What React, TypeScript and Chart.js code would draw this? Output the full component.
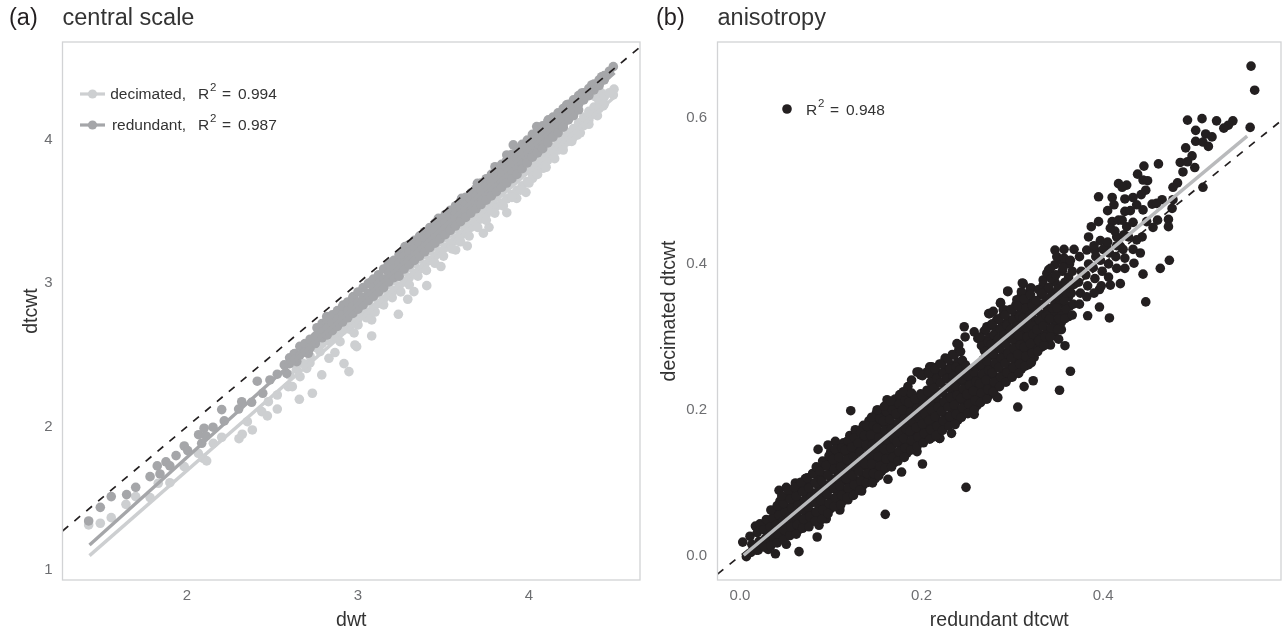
import React, { useEffect, useRef } from "react";
import { Chart, registerables } from "chart.js";

Chart.register(...registerables);

const FONT = '"Liberation Sans", Arial, sans-serif';

const scaleTicksX = [2, 3, 4];
const scaleTicksY = [1, 2, 3, 4];
const anisoTicksX = [0, 0.2, 0.4];
const anisoTicksY = [0, 0.2, 0.4, 0.6];

const identityScale = [[1.272, 1.272], [4.649, 4.649]];
const identityAniso = [[-0.0248, -0.0248], [0.596, 0.596]];
const fitDecimated = [[1.43, 1.1], [4.5, 4.3]];
const fitRedundant = [[1.43, 1.174], [4.5, 4.47]];
const fitAniso = [[0.004, 0.001], [0.5587, 0.575]];

const decimatedPoints = [
  [1.425,1.314],[1.493,1.326],[1.557,1.365],[1.643,1.458],[1.7,1.512],[1.784,1.505],[1.832,1.605],[1.9,1.609],[1.984,1.721],[2.066,1.814],[2.095,1.779],[2.115,1.761],[2.154,1.884],[2.203,1.926],[2.304,1.916],[2.323,1.947],[2.382,1.977],[2.353,2.035],[2.437,2.105],[2.47,2.075],[2.476,2.174],[2.528,2.123],[2.528,2.221],[2.592,2.279],[2.616,2.279],[2.657,2.191],[2.733,2.233],[2.661,2.349],[2.7,2.407],[2.788,2.361],[2.918,2.44],[2.947,2.384],[2.83,2.477],[2.865,2.517],[2.719,2.445],[2.778,2.524],[2.982,2.57],[2.895,2.593],
  [2.992,2.558],[3.08,2.633],[2.977,2.654],[3.08,2.745],[3.236,2.784],[3.291,2.889],[3.327,2.942],[3.402,2.984],[3.485,3.117],[3.571,3.233],[3.639,3.261],[3.733,3.35],[3.766,3.391],[3.87,3.493],[3.928,3.593],[3.982,3.635],[4.021,3.733],[4.082,3.803],[4.143,3.884],[4.191,3.942],[4.282,4.035],[4.337,4.152],[4.392,4.187],[4.434,4.238],[4.493,4.315],[4.497,4.355],[4.421,4.331],[4.386,4.303],
  [2.6,2.36],[2.64,2.4],[2.68,2.44],[2.72,2.49],[2.76,2.6],[2.76,2.55],[2.79,2.63],[2.79,2.58],[2.82,2.65],[2.82,2.6],[2.85,2.69],[2.85,2.62],[2.88,2.7],[2.88,2.65],[2.91,2.73],[2.91,2.67],[2.94,2.76],[2.94,2.7],[2.97,2.78],[2.97,2.72],[3.0,2.81],[3.0,2.75],[3.03,2.84],[3.03,2.78],[3.06,2.87],[3.06,2.8],[3.09,2.9],[3.09,2.83],[3.12,2.93],[3.12,2.86],[3.15,2.96],[3.15,2.89],[3.18,2.99],[3.18,2.92],[3.21,3.02],[3.21,2.95],
  [3.24,3.05],[3.24,2.98],[3.27,3.08],[3.27,3.01],[3.3,3.11],[3.3,3.04],[3.33,3.14],[3.33,3.07],[3.36,3.17],[3.36,3.1],[3.39,3.2],[3.39,3.13],[3.42,3.23],[3.42,3.16],[3.45,3.26],[3.45,3.19],[3.48,3.29],[3.48,3.22],[3.51,3.32],[3.51,3.25],[3.54,3.35],[3.54,3.27],[3.57,3.38],[3.57,3.3],[3.6,3.41],[3.6,3.33],[3.63,3.44],[3.63,3.36],[3.66,3.47],[3.66,3.39],[3.69,3.5],[3.69,3.42],[3.72,3.53],[3.72,3.45],[3.75,3.56],[3.75,3.48],[3.78,3.59],[3.78,3.51],[3.81,3.62],[3.81,3.54],[3.84,3.65],[3.84,3.56],[3.87,3.68],[3.87,3.59],[3.9,3.71],[3.9,3.62],[3.93,3.74],[3.93,3.65],[3.96,3.77],[3.96,3.68],[3.99,3.8],[3.99,3.71],[4.02,3.83],[4.02,3.76],[4.05,3.86],[4.05,3.79],[4.08,3.89],[4.08,3.83],[4.11,3.92],[4.11,3.86],[4.14,3.95],[4.14,3.9],[4.17,3.98],[4.17,3.93],[4.2,4.02],[4.2,3.96],[4.23,4.05],[4.23,3.99],[4.26,4.08],[4.26,4.02],[4.29,4.12],[4.29,4.07],[4.32,4.16],[4.32,4.1],[4.35,4.2],[4.35,4.14],[4.38,4.23],[4.38,4.18],[4.41,4.27],[4.41,4.22],[4.44,4.3],[4.44,4.25],[4.47,4.33],
  [2.95,2.68],[3.0,2.71],[3.05,2.76],[3.1,2.8],[3.15,2.85],[3.2,2.9],[3.25,2.94],[3.3,2.99],[3.35,3.05],[3.4,3.09],[3.45,3.14],[3.5,3.19],[3.55,3.24],[3.6,3.29],[3.65,3.33],[3.7,3.39],[3.75,3.44],[3.8,3.49],[3.85,3.54],[3.9,3.6],[3.95,3.65],[4.0,3.7],[4.05,3.76],[4.1,3.81],[4.15,3.87],[4.2,3.93],[4.25,3.99],[4.3,4.05],[4.35,4.11],[4.4,4.17]
];

const redundantPoints = [
  [1.425,1.342],[1.493,1.437],[1.557,1.512],[1.647,1.526],[1.7,1.577],[1.784,1.651],[1.826,1.726],[1.842,1.67],[1.877,1.754],[1.9,1.726],[1.936,1.798],[1.984,1.865],[2.004,1.833],[2.068,1.944],[2.1,1.989],[2.111,1.935],[2.086,1.884],[2.152,1.996],[2.203,2.119],[2.218,2.04],[2.302,2.123],[2.32,2.174],[2.378,2.17],[2.411,2.317],[2.443,2.233],[2.485,2.326],[2.528,2.366],[2.569,2.431],[2.583,2.372],[2.626,2.507],[2.642,2.454],[2.68,2.554],[2.709,2.512],[2.749,2.582],
  [2.6,2.48],[2.6,2.44],[2.63,2.51],[2.63,2.47],[2.66,2.56],[2.66,2.5],[2.69,2.58],[2.69,2.52],[2.72,2.61],[2.72,2.55],[2.75,2.63],[2.75,2.58],[2.817,2.768],[2.924,2.849],[2.973,2.896],[3.187,3.14],[3.275,3.256],
  [4.493,4.512],[4.425,4.442],[4.367,4.384],[4.308,4.327],[4.22,4.245],[4.113,4.141],[4.045,4.094],[3.908,3.966],[3.87,3.896],[3.801,3.814],[3.698,3.698],[3.606,3.593],[3.47,3.454],[3.314,3.256],[3.177,3.129],[3.08,3.012],[2.972,2.907],[2.914,2.849],
  [2.76,2.69],[2.76,2.63],[2.79,2.72],[2.79,2.66],[2.79,2.62],[2.82,2.75],[2.82,2.69],[2.82,2.64],[2.85,2.78],[2.85,2.72],[2.85,2.67],[2.88,2.81],[2.88,2.75],[2.88,2.7],[2.91,2.84],[2.91,2.78],[2.91,2.73],[2.94,2.87],[2.94,2.81],[2.94,2.76],[2.97,2.9],[2.97,2.84],[2.97,2.79],[3.0,2.94],[3.0,2.87],[3.0,2.82],[3.03,2.97],[3.03,2.9],[3.03,2.85],[3.06,3.0],[3.06,2.93],[3.06,2.88],[3.09,3.03],[3.09,2.97],[3.09,2.91],[3.12,3.06],[3.12,3.0],[3.12,2.94],[3.15,3.1],[3.15,3.03],[3.15,2.97],[3.18,3.13],[3.18,3.07],[3.18,3.01],[3.21,3.16],[3.21,3.1],[3.21,3.04],[3.24,3.2],[3.24,3.14],[3.24,3.08],[3.24,3.05],
  [3.27,3.24],[3.27,3.19],[3.27,3.14],[3.27,3.1],[3.3,3.27],[3.3,3.22],[3.3,3.17],[3.3,3.13],[3.33,3.3],[3.33,3.25],[3.33,3.2],[3.33,3.16],[3.36,3.33],[3.36,3.28],[3.36,3.23],[3.36,3.19],[3.39,3.36],[3.39,3.31],[3.39,3.26],[3.39,3.22],[3.42,3.39],[3.42,3.34],[3.42,3.29],[3.42,3.25],[3.45,3.42],[3.45,3.37],[3.45,3.32],[3.45,3.28],[3.48,3.45],[3.48,3.4],[3.48,3.35],[3.48,3.31],[3.51,3.48],[3.51,3.43],[3.51,3.38],[3.51,3.34],[3.54,3.51],[3.54,3.46],[3.54,3.41],[3.54,3.37],[3.57,3.54],[3.57,3.49],[3.57,3.44],[3.57,3.4],[3.6,3.57],[3.6,3.52],[3.6,3.47],[3.6,3.43],[3.63,3.6],[3.63,3.55],[3.63,3.5],[3.63,3.46],[3.66,3.63],[3.66,3.58],[3.66,3.53],[3.66,3.49],[3.69,3.66],[3.69,3.61],[3.69,3.56],[3.69,3.52],[3.72,3.7],[3.72,3.65],[3.72,3.59],[3.72,3.55],[3.75,3.73],[3.75,3.68],[3.75,3.62],[3.75,3.58],[3.78,3.76],[3.78,3.71],[3.78,3.65],[3.78,3.61],[3.81,3.8],[3.81,3.74],[3.81,3.68],[3.81,3.64],[3.84,3.83],[3.84,3.77],[3.84,3.71],[3.84,3.67],[3.87,3.86],[3.87,3.8],[3.87,3.74],[3.87,3.7],[3.9,3.9],[3.9,3.84],[3.9,3.78],[3.9,3.73],[3.93,3.93],[3.93,3.87],[3.93,3.81],[3.93,3.76],[3.96,3.97],[3.96,3.91],[3.96,3.85],[3.96,3.8],[3.99,4.0],[3.99,3.94],[3.99,3.88],[3.99,3.84],
  [4.02,4.04],[4.02,3.98],[4.02,3.92],[4.02,3.88],[4.05,4.07],[4.05,4.01],[4.05,3.95],[4.05,3.91],[4.08,4.1],[4.08,4.04],[4.08,3.98],[4.08,3.94],[4.11,4.13],[4.11,4.07],[4.11,4.02],[4.11,3.98],[4.14,4.16],[4.14,4.1],[4.14,4.05],[4.14,4.02],[4.17,4.19],[4.17,4.13],[4.17,4.08],[4.17,4.05],[4.2,4.22],[4.2,4.16],[4.2,4.11],[4.2,4.09],[4.23,4.25],[4.23,4.19],[4.23,4.14],[4.26,4.28],[4.26,4.22],[4.26,4.17],[4.29,4.31],[4.29,4.25],[4.29,4.21],[4.32,4.33],[4.32,4.28],[4.35,4.36],[4.35,4.31],[4.38,4.39],[4.38,4.35],[4.41,4.42],[4.41,4.38],[4.44,4.45],[4.44,4.42],[4.47,4.48]
];

const anisotropyPoints = [
  [0.003,0.019],[0.007,-0.001],[0.018,0.008],[0.031,0.009],[0.039,0.003],[0.051,0.016],[0.065,0.006],[0.085,0.026],[0.087,0.042],[0.095,0.051],[0.11,0.063],[0.119,0.077],[0.134,0.089],[0.163,0.105],[0.16,0.057],[0.249,0.094],[0.201,0.126],[0.178,0.115],[0.233,0.168],[0.258,0.194],[0.284,0.217],[0.306,0.204],[0.122,0.199],[0.086,0.146],[0.043,0.09],[0.051,0.094],[0.061,0.1],[0.017,0.041],[0.162,0.214],[0.176,0.221],
  [0.563,0.671],[0.567,0.638],[0.562,0.587],[0.493,0.597],[0.509,0.599],[0.525,0.596],[0.543,0.596],[0.538,0.59],[0.533,0.586],[0.502,0.583],[0.513,0.578],[0.52,0.574],[0.502,0.568],[0.51,0.567],[0.516,0.561],[0.491,0.559],[0.498,0.548],[0.485,0.539],[0.493,0.54],[0.501,0.532],[0.488,0.526],[0.461,0.537],[0.445,0.534],[0.438,0.523],[0.444,0.515],[0.449,0.514],[0.417,0.51],[0.426,0.508],[0.421,0.505],[0.482,0.511],[0.477,0.505],[0.51,0.505],[0.447,0.501],[0.442,0.495],[0.395,0.492],[0.41,0.491],[0.412,0.481],[0.424,0.489],[0.433,0.491],[0.405,0.473],[0.424,0.472],[0.43,0.473],[0.437,0.481],[0.444,0.474],[0.454,0.482],[0.465,0.488],[0.459,0.483],[0.477,0.488],[0.476,0.476],[0.472,0.461],[0.472,0.451],[0.455,0.45],[0.46,0.46],[0.448,0.458],[0.443,0.437],[0.437,0.433],[0.395,0.458],[0.387,0.451],[0.41,0.458],[0.417,0.46],[0.408,0.449],[0.426,0.451],[0.433,0.457],[0.384,0.437],[0.397,0.432],[0.415,0.437],[0.428,0.437],[0.419,0.424],[0.347,0.419],[0.357,0.42],[0.368,0.42],[0.382,0.419],[0.391,0.419],[0.404,0.424],[0.433,0.42],[0.441,0.415],[0.424,0.408],[0.473,0.405],[0.463,0.394],[0.434,0.401],[0.444,0.386],[0.424,0.394],[0.415,0.394],[0.447,0.348],[0.396,0.341],[0.407,0.326],[0.383,0.329],[0.419,0.373],[0.408,0.371],[0.396,0.365],[0.406,0.382],[0.295,0.362],[0.312,0.373],[0.32,0.367],[0.31,0.357],[0.287,0.346],[0.307,0.348],[0.275,0.332],[0.292,0.337],[0.34,0.392],[0.347,0.399],[0.354,0.405],[0.334,0.378],
  [0.195,0.252],[0.152,0.2],[0.136,0.179],[0.127,0.173],[0.105,0.157],[0.097,0.152],[0.072,0.106],[0.055,0.084],[0.209,0.259],[0.226,0.271],[0.239,0.291],[0.22,0.161],[0.213,0.163],[0.195,0.143],[0.147,0.113],[0.132,0.09],[0.237,0.186],[0.257,0.207],[0.272,0.216],
  [0.151,0.2],[0.189,0.241],[0.197,0.252],[0.211,0.259],[0.241,0.289],[0.247,0.314],[0.248,0.3],[0.258,0.307],[0.272,0.314],[0.274,0.332],[0.279,0.335],[0.287,0.347],[0.29,0.337],[0.295,0.363],[0.305,0.351],[0.31,0.362],[0.311,0.374],[0.321,0.367],[0.334,0.371],[0.338,0.387],[0.349,0.41],[0.357,0.408],[0.342,0.394],
  [0.22,0.161],[0.215,0.168],[0.237,0.185],[0.283,0.218],[0.271,0.215],[0.313,0.232],[0.323,0.24],[0.352,0.227],[0.318,0.262],[0.307,0.255],[0.294,0.247],[0.332,0.286],[0.342,0.289],[0.358,0.288],[0.351,0.297],[0.354,0.31],[0.364,0.253],[0.198,0.159],
  [0.012,0.005],[0.013,0.016],[0.011,0.027],[0.02,0.008],[0.021,0.02],[0.019,0.032],[0.022,0.044],[0.027,0.012],[0.028,0.024],[0.026,0.036],[0.029,0.05],[0.034,0.014],[0.035,0.027],[0.033,0.04],[0.036,0.052],[0.034,0.063],[0.041,0.018],[0.042,0.03],[0.04,0.043],[0.043,0.056],[0.041,0.069],[0.048,0.022],[0.049,0.035],[0.047,0.047],[0.05,0.06],[0.048,0.072],[0.046,0.082],
  [0.055,0.028],[0.056,0.04],[0.054,0.053],[0.057,0.066],[0.055,0.078],[0.053,0.09],[0.062,0.03],[0.063,0.043],[0.061,0.056],[0.064,0.069],[0.062,0.082],[0.06,0.094],[0.069,0.038],[0.07,0.05],[0.068,0.063],[0.071,0.076],[0.069,0.088],[0.067,0.101],[0.076,0.04],[0.077,0.054],[0.075,0.067],[0.078,0.08],[0.076,0.093],[0.074,0.107],
  [0.083,0.048],[0.084,0.06],[0.082,0.074],[0.085,0.087],[0.083,0.1],[0.081,0.113],[0.084,0.122],[0.09,0.05],[0.091,0.063],[0.089,0.076],[0.092,0.09],[0.09,0.103],[0.088,0.116],[0.091,0.13],[0.097,0.058],[0.098,0.072],[0.096,0.085],[0.099,0.098],[0.097,0.111],[0.095,0.124],[0.098,0.137],[0.104,0.068],[0.105,0.08],[0.103,0.093],[0.106,0.106],[0.104,0.119],[0.102,0.132],[0.105,0.146],
  [0.111,0.07],[0.112,0.083],[0.11,0.096],[0.113,0.109],[0.111,0.122],[0.109,0.135],[0.112,0.148],[0.118,0.08],[0.119,0.093],[0.117,0.106],[0.12,0.119],[0.118,0.132],[0.116,0.145],[0.119,0.158],[0.125,0.083],[0.126,0.097],[0.124,0.11],[0.127,0.123],[0.125,0.136],[0.123,0.149],[0.126,0.162],[0.132,0.09],[0.133,0.103],[0.131,0.116],[0.134,0.129],[0.132,0.142],[0.13,0.155],[0.133,0.169],
  [0.139,0.1],[0.14,0.113],[0.138,0.126],[0.141,0.139],[0.139,0.152],[0.137,0.165],[0.14,0.178],[0.146,0.1],[0.147,0.113],[0.145,0.126],[0.148,0.14],[0.146,0.153],[0.144,0.166],[0.147,0.179],[0.145,0.19],[0.153,0.11],[0.154,0.123],[0.152,0.136],[0.155,0.149],[0.153,0.162],[0.151,0.175],[0.154,0.188],
  [0.16,0.12],[0.161,0.133],[0.159,0.146],[0.162,0.159],[0.16,0.172],[0.158,0.185],[0.161,0.198],[0.159,0.205],[0.167,0.122],[0.168,0.135],[0.166,0.148],[0.169,0.161],[0.167,0.174],[0.165,0.187],[0.168,0.2],[0.166,0.212],[0.174,0.13],[0.175,0.143],[0.173,0.156],[0.176,0.169],[0.174,0.182],[0.172,0.195],[0.175,0.208],[0.181,0.135],[0.182,0.148],[0.18,0.161],[0.183,0.174],[0.181,0.187],[0.179,0.2],[0.182,0.213],[0.18,0.225],
  [0.188,0.145],[0.189,0.158],[0.187,0.171],[0.19,0.184],[0.188,0.197],[0.186,0.21],[0.189,0.223],[0.195,0.15],[0.196,0.163],[0.194,0.176],[0.197,0.189],[0.195,0.202],[0.193,0.215],[0.202,0.155],[0.203,0.168],[0.201,0.181],[0.204,0.194],[0.202,0.207],[0.2,0.22],[0.201,0.247],[0.209,0.16],[0.21,0.173],[0.208,0.186],[0.211,0.199],[0.209,0.212],[0.207,0.225],[0.21,0.238],[0.208,0.25],
  [0.216,0.165],[0.217,0.178],[0.215,0.191],[0.218,0.204],[0.216,0.217],[0.214,0.23],[0.217,0.243],[0.215,0.256],[0.223,0.172],[0.224,0.185],[0.222,0.198],[0.225,0.211],[0.223,0.224],[0.221,0.237],[0.224,0.25],[0.222,0.263],[0.23,0.178],[0.231,0.191],[0.229,0.204],[0.232,0.217],[0.23,0.23],[0.228,0.243],[0.231,0.256],[0.229,0.27],[0.237,0.18],[0.238,0.194],[0.236,0.207],[0.239,0.22],[0.237,0.233],[0.235,0.246],[0.238,0.259],[0.236,0.275],
  [0.244,0.19],[0.245,0.203],[0.243,0.216],[0.246,0.229],[0.244,0.242],[0.242,0.255],[0.245,0.268],[0.243,0.28],[0.251,0.195],[0.252,0.208],[0.25,0.221],[0.253,0.234],[0.251,0.247],[0.249,0.26],[0.258,0.2],[0.259,0.213],[0.257,0.226],[0.26,0.239],[0.258,0.252],[0.265,0.21],[0.266,0.223],[0.264,0.236],[0.267,0.249],[0.265,0.262],[0.266,0.288],[0.264,0.3],
  [0.272,0.215],[0.273,0.228],[0.271,0.241],[0.274,0.254],[0.272,0.267],[0.27,0.28],[0.273,0.293],[0.271,0.31],[0.279,0.225],[0.28,0.238],[0.278,0.251],[0.281,0.264],[0.279,0.277],[0.277,0.29],[0.28,0.303],[0.278,0.318],[0.286,0.232],[0.287,0.245],[0.285,0.258],[0.288,0.271],[0.286,0.284],[0.284,0.297],[0.287,0.31],[0.285,0.325],[0.293,0.238],[0.294,0.251],[0.292,0.264],[0.295,0.277],[0.293,0.29],[0.291,0.303],[0.294,0.316],[0.292,0.33],
  [0.3,0.245],[0.301,0.258],[0.299,0.271],[0.302,0.284],[0.3,0.297],[0.298,0.31],[0.301,0.323],[0.299,0.338],[0.307,0.25],[0.308,0.263],[0.306,0.276],[0.309,0.289],[0.307,0.302],[0.305,0.315],[0.308,0.328],[0.306,0.342],[0.314,0.26],[0.315,0.273],[0.313,0.286],[0.316,0.3],[0.314,0.313],[0.312,0.326],[0.315,0.339],[0.313,0.352],[0.321,0.265],[0.322,0.278],[0.32,0.291],[0.323,0.304],[0.321,0.317],[0.319,0.33],[0.322,0.343],[0.32,0.358],
  [0.328,0.28],[0.329,0.295],[0.327,0.31],[0.33,0.323],[0.328,0.336],[0.326,0.35],[0.329,0.365],[0.335,0.288],[0.336,0.3],[0.334,0.315],[0.337,0.33],[0.335,0.345],[0.333,0.36],[0.342,0.3],[0.343,0.312],[0.341,0.325],[0.344,0.34],[0.342,0.355],[0.34,0.368],[0.343,0.38],[0.35,0.31],[0.351,0.325],[0.349,0.34],[0.352,0.352],[0.35,0.365],[0.348,0.385],[0.358,0.325],[0.359,0.338],[0.357,0.35],[0.36,0.36],[0.358,0.375],[0.356,0.395],[0.366,0.33],[0.367,0.345],[0.365,0.36],[0.368,0.372],[0.366,0.39],[0.364,0.405],[0.374,0.345],[0.375,0.36],[0.373,0.375],[0.376,0.39],[0.374,0.41],[0.382,0.355],[0.383,0.37],[0.381,0.385],[0.384,0.4],[0.39,0.36],[0.391,0.38],[0.389,0.395],[0.392,0.41],[0.39,0.425],[0.398,0.37],[0.399,0.39],[0.397,0.405],[0.4,0.42],[0.406,0.4],[0.407,0.415],[0.405,0.43],[0.414,0.41],[0.415,0.425],[0.413,0.445],[0.422,0.42],[0.423,0.44],[0.421,0.46]
];

const anisotropyCore = [
  [0.03,0.018],[0.031,0.03],[0.03,0.043],[0.037,0.02],[0.038,0.033],[0.037,0.046],[0.038,0.058],[0.044,0.024],[0.045,0.037],[0.044,0.05],[0.045,0.062],[0.044,0.075],[0.051,0.028],[0.052,0.041],[0.051,0.054],[0.052,0.066],[0.051,0.079],[0.058,0.034],[0.059,0.047],[0.058,0.06],[0.059,0.072],[0.058,0.085],[0.065,0.036],[0.066,0.05],[0.065,0.062],[0.066,0.075],[0.065,0.088],[0.066,0.098],[0.072,0.044],[0.073,0.057],[0.072,0.07],[0.073,0.083],[0.072,0.095],[0.079,0.047],[0.08,0.06],[0.079,0.073],[0.08,0.086],[0.079,0.1],[0.08,0.113],
  [0.086,0.054],[0.087,0.067],[0.086,0.08],[0.087,0.094],[0.086,0.107],[0.087,0.12],[0.093,0.056],[0.094,0.07],[0.093,0.083],[0.094,0.097],[0.093,0.11],[0.094,0.123],[0.1,0.065],[0.101,0.078],[0.1,0.092],[0.101,0.105],[0.1,0.118],[0.101,0.13],[0.1,0.143],[0.107,0.074],[0.108,0.087],[0.107,0.1],[0.108,0.113],[0.107,0.126],[0.108,0.139],[0.107,0.15],[0.114,0.076],[0.115,0.09],[0.114,0.103],[0.115,0.116],[0.114,0.129],[0.115,0.142],[0.114,0.155],[0.121,0.087],[0.122,0.1],[0.121,0.113],[0.122,0.126],[0.121,0.139],[0.122,0.152],[0.121,0.165],
  [0.128,0.09],[0.129,0.103],[0.128,0.116],[0.129,0.13],[0.128,0.143],[0.129,0.156],[0.128,0.17],[0.135,0.096],[0.136,0.11],[0.135,0.123],[0.136,0.136],[0.135,0.149],[0.136,0.162],[0.135,0.175],[0.142,0.107],[0.143,0.12],[0.142,0.133],[0.143,0.146],[0.142,0.159],[0.143,0.172],[0.142,0.185],[0.149,0.106],[0.15,0.12],[0.149,0.133],[0.15,0.146],[0.149,0.159],[0.15,0.172],[0.149,0.185],[0.15,0.195],[0.156,0.116],[0.157,0.13],[0.156,0.143],[0.157,0.156],[0.156,0.169],[0.157,0.182],[0.156,0.195],[0.163,0.126],[0.164,0.14],[0.163,0.153],[0.164,0.166],[0.163,0.179],[0.164,0.192],[0.163,0.205],
  [0.17,0.128],[0.171,0.141],[0.17,0.154],[0.171,0.167],[0.17,0.18],[0.171,0.193],[0.17,0.206],[0.171,0.215],[0.177,0.136],[0.178,0.15],[0.177,0.163],[0.178,0.176],[0.177,0.189],[0.178,0.202],[0.177,0.215],[0.184,0.141],[0.185,0.155],[0.184,0.168],[0.185,0.181],[0.184,0.194],[0.185,0.207],[0.184,0.22],[0.185,0.232],[0.191,0.151],[0.192,0.165],[0.191,0.178],[0.192,0.191],[0.191,0.204],[0.192,0.217],[0.198,0.156],[0.199,0.17],[0.198,0.183],[0.199,0.196],[0.198,0.209],[0.199,0.222],[0.199,0.248],
  [0.205,0.161],[0.206,0.175],[0.205,0.188],[0.206,0.201],[0.205,0.214],[0.206,0.227],[0.206,0.252],[0.212,0.166],[0.213,0.18],[0.212,0.193],[0.213,0.206],[0.212,0.219],[0.213,0.232],[0.212,0.245],[0.213,0.258],[0.219,0.171],[0.22,0.185],[0.219,0.198],[0.22,0.211],[0.219,0.224],[0.22,0.237],[0.219,0.25],[0.22,0.263],[0.226,0.178],[0.227,0.191],[0.226,0.204],[0.227,0.217],[0.226,0.23],[0.227,0.243],[0.226,0.256],[0.227,0.27],[0.233,0.184],[0.234,0.197],[0.233,0.21],[0.234,0.223],[0.233,0.236],[0.234,0.249],[0.233,0.262],[0.234,0.276],
  [0.24,0.186],[0.241,0.2],[0.24,0.213],[0.241,0.226],[0.24,0.239],[0.241,0.252],[0.24,0.265],[0.241,0.282],[0.247,0.196],[0.248,0.21],[0.247,0.223],[0.248,0.236],[0.247,0.249],[0.248,0.262],[0.254,0.201],[0.255,0.215],[0.254,0.228],[0.255,0.241],[0.254,0.254],[0.261,0.206],[0.262,0.22],[0.261,0.233],[0.262,0.246],[0.261,0.259],[0.262,0.298],
  [0.268,0.216],[0.269,0.23],[0.268,0.243],[0.269,0.256],[0.268,0.269],[0.269,0.282],[0.268,0.295],[0.269,0.308],[0.275,0.221],[0.276,0.235],[0.275,0.248],[0.276,0.261],[0.275,0.274],[0.276,0.287],[0.275,0.3],[0.276,0.316],[0.282,0.231],[0.283,0.245],[0.282,0.258],[0.283,0.271],[0.282,0.284],[0.283,0.297],[0.282,0.31],[0.283,0.324],[0.289,0.238],[0.29,0.252],[0.289,0.265],[0.29,0.278],[0.289,0.291],[0.29,0.304],[0.289,0.317],[0.29,0.33],
  [0.296,0.244],[0.297,0.258],[0.296,0.271],[0.297,0.284],[0.296,0.297],[0.297,0.31],[0.296,0.323],[0.297,0.337],[0.303,0.251],[0.304,0.265],[0.303,0.278],[0.304,0.291],[0.303,0.304],[0.304,0.317],[0.303,0.33],[0.304,0.344],[0.31,0.256],[0.311,0.27],[0.31,0.283],[0.311,0.296],[0.31,0.309],[0.311,0.322],[0.31,0.335],[0.311,0.349],[0.317,0.266],[0.318,0.28],[0.317,0.293],[0.318,0.307],[0.317,0.32],[0.318,0.333],[0.317,0.346],[0.318,0.36],
  [0.324,0.272],[0.325,0.285],[0.324,0.298],[0.325,0.311],[0.324,0.324],[0.325,0.337],[0.324,0.35],[0.331,0.29],[0.332,0.303],[0.331,0.318],[0.332,0.331],[0.331,0.345],[0.332,0.358],[0.338,0.295],[0.339,0.308],[0.338,0.322],[0.339,0.337],[0.338,0.352],[0.339,0.366],[0.346,0.305],[0.347,0.318],[0.346,0.333],[0.347,0.348],[0.346,0.36],[0.347,0.375],[0.354,0.32],[0.355,0.332],[0.354,0.345],[0.355,0.357],[0.354,0.37],[0.355,0.39],[0.362,0.328],[0.363,0.342],[0.362,0.355],[0.363,0.367],[0.362,0.382],[0.363,0.4]
];

const scaleTitle = "central scale";
const anisoTitle = "anisotropy";
const legendA = [
  { label: "decimated,", r2: "0.994", color: "#cdcfd1" },
  { label: "redundant,", r2: "0.987", color: "#a5a6a9" },
];
const legendB = { r2: "0.948", color: "#231f20" };

const toXY = (pairs: number[][]) => pairs.map(([x, y]) => ({ x, y }));

function scatterSet(pairs: number[][], color: string, order: number) {
  return { data: toXY(pairs), showLine: false, pointRadius: 4.8, pointBackgroundColor: color, pointBorderWidth: 0, order };
}
function lineSet(pairs: number[][], color: string, order: number, width: number, dash: number[] = []) {
  return { data: toXY(pairs), showLine: true, pointRadius: 0, borderColor: color, borderWidth: width, borderDash: dash, order };
}

function axis(title: string, ticks: number[], min: number, max: number, size: number, titlePad: any, tickPad: number, fmt: (v: number) => string, horizontal: boolean) {
  return {
    type: "linear",
    min,
    max,
    afterBuildTicks: (s: any) => { s.ticks = ticks.map((value) => ({ value })); },
    afterFit: (s: any) => {
      if (horizontal) { s.height = size; s.paddingLeft = 0; s.paddingRight = 0; }
      else { s.width = size; s.paddingTop = 0; s.paddingBottom = 0; }
    },
    grid: { display: false, drawTicks: false },
    border: { display: false },
    ticks: { color: "#6d6e71", font: { family: FONT, size: 15 }, padding: tickPad, maxRotation: 0, autoSkip: false, callback: (v: number) => fmt(Number(v)) },
    title: { display: true, text: title, color: "#333333", font: { family: FONT, size: 19.5 }, padding: titlePad },
  };
}

const frame = {
  id: "frame",
  afterDatasetsDraw(chart: any) {
    const { ctx, chartArea: a } = chart;
    ctx.save();
    ctx.strokeStyle = "#d2d3d5";
    ctx.lineWidth = 1.3;
    ctx.strokeRect(a.left, a.top, a.right - a.left, a.bottom - a.top);
    ctx.restore();
  },
};

function r2Text(ctx: any, x: number, y: number, value: string) {
  ctx.font = `15.5px ${FONT}`;
  ctx.fillText("R", x, y);
  ctx.font = `11.5px ${FONT}`;
  ctx.fillText("2", x + 12, y - 7);
  ctx.font = `15.5px ${FONT}`;
  ctx.fillText("=", x + 24, y);
  ctx.fillText(value, x + 40, y);
}

function panelLabel(text: string, x: number) {
  return {
    id: "panelLabel",
    afterDraw(chart: any) {
      const ctx = chart.ctx;
      ctx.save();
      ctx.fillStyle = "#231f20";
      ctx.font = `23.5px ${FONT}`;
      ctx.textBaseline = "middle";
      ctx.fillText(text, x, 19);
      ctx.restore();
    },
  };
}

const legendPluginA = {
  id: "legendA",
  afterDraw(chart: any) {
    const ctx = chart.ctx;
    ctx.save();
    legendA.forEach((item, i) => {
      const y = 94 + i * 31;
      ctx.strokeStyle = item.color;
      ctx.fillStyle = item.color;
      ctx.lineWidth = 3.2;
      ctx.beginPath();
      ctx.moveTo(80, y);
      ctx.lineTo(105, y);
      ctx.stroke();
      ctx.beginPath();
      ctx.arc(92.5, y, 4.6, 0, Math.PI * 2);
      ctx.fill();
      ctx.fillStyle = "#333333";
      ctx.textBaseline = "middle";
      ctx.font = `15.5px ${FONT}`;
      ctx.textAlign = "right";
      ctx.fillText(item.label, 186, y + 0.5);
      ctx.textAlign = "left";
      r2Text(ctx, 198, y + 0.5, item.r2);
    });
    ctx.restore();
  },
};

const legendPluginB = {
  id: "legendB",
  afterDraw(chart: any) {
    const ctx = chart.ctx;
    ctx.save();
    ctx.fillStyle = legendB.color;
    ctx.beginPath();
    ctx.arc(787 - 645, 109, 4.8, 0, Math.PI * 2);
    ctx.fill();
    ctx.fillStyle = "#333333";
    ctx.textBaseline = "middle";
    r2Text(ctx, 806 - 645, 110.5, legendB.r2);
    ctx.restore();
  },
};

function baseOptions(title: string, x: any, y: any) {
  return {
    responsive: false,
    animation: false,
    events: [],
    layout: { autoPadding: false, padding: { left: 0, right: 1, top: 0, bottom: 0 } },
    plugins: {
      legend: { display: false },
      tooltip: { enabled: false },
      title: {
        display: true,
        text: title,
        align: "start",
        fullSize: false,
        color: "#333333",
        font: { family: FONT, size: 23.5, weight: "normal" },
        padding: { top: 4, bottom: 9.8 },
      },
    },
    scales: { x, y },
  };
}

export default function App() {
  const refA = useRef<HTMLCanvasElement>(null);
  const refB = useRef<HTMLCanvasElement>(null);

  useEffect(() => {
    const a = new Chart(refA.current as any, {
      type: "scatter",
      data: {
        datasets: [
          lineSet(identityScale, "#231f20", 0, 1.7, [7.5, 8]),
          lineSet(fitRedundant, "#a5a6a9", 1, 3.4),
          scatterSet(redundantPoints, "#a5a6a9", 2),
          lineSet(fitDecimated, "#cdcfd1", 3, 3.4),
          scatterSet(decimatedPoints, "#cdcfd1", 4),
        ] as any,
      },
      options: baseOptions(
        scaleTitle,
        axis("dwt", scaleTicksX, 1.272, 4.649, 53, { top: 0, bottom: 1 }, 7, (v) => String(v), true),
        axis("dtcwt", scaleTicksY, 0.93, 4.684, 62.5, { top: 20, bottom: 0 }, 10, (v) => String(v), false)
      ) as any,
      plugins: [frame, legendPluginA, panelLabel("(a)", 9)],
    });
    const b = new Chart(refB.current as any, {
      type: "scatter",
      data: {
        datasets: [
          lineSet(fitAniso, "#b9babc", 0, 3.4),
          lineSet(identityAniso, "#231f20", 1, 1.7, [7.5, 8]),
          scatterSet(anisotropyPoints, "#231f20", 2),
          scatterSet(anisotropyCore, "#231f20", 3),
        ] as any,
      },
      options: baseOptions(
        anisoTitle,
        axis("redundant dtcwt", anisoTicksX, -0.0248, 0.596, 53, { top: 0, bottom: 1 }, 7, (v) => v.toFixed(1), true),
        axis("decimated dtcwt", anisoTicksY, -0.0329, 0.704, 72.5, { top: 13, bottom: 0 }, 10.5, (v) => v.toFixed(1), false)
      ) as any,
      plugins: [frame, legendPluginB, panelLabel("(b)", 656 - 645)],
    });
    return () => {
      a.destroy();
      b.destroy();
    };
  }, []);

  return (
    <div style={{ position: "absolute", left: 0, top: 0, width: 1282, height: 633, background: "#fff", overflow: "hidden" }}>
      <canvas ref={refA} width={641} height={633} style={{ position: "absolute", left: 0, top: 0, display: "block" }} />
      <canvas ref={refB} width={637} height={633} style={{ position: "absolute", left: 645, top: 0, display: "block" }} />
    </div>
  );
}
